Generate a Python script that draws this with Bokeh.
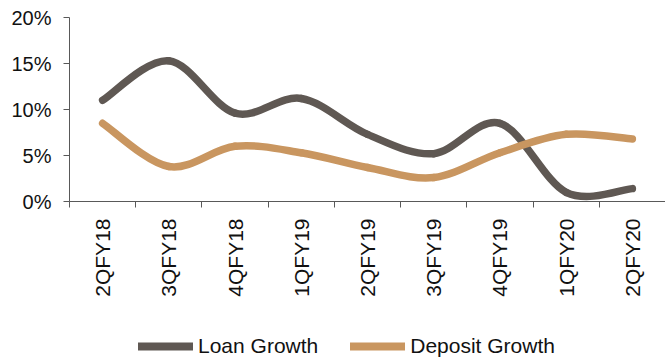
import math
from bokeh.plotting import figure
from bokeh.layouts import column
from bokeh.models import (Range1d, FixedTicker, CustomJSTickFormatter, Legend, LegendItem,
                          ColumnDataSource)
from bokeh.embed import file_html
from bokeh.resources import INLINE

quarters = ["2QFY18", "3QFY18", "4QFY18", "1QFY19", "2QFY19", "3QFY19", "4QFY19", "1QFY20", "2QFY20"]
loan_growth = [11.0, 15.3, 9.6, 11.2, 7.3, 5.2, 8.5, 1.0, 1.4]
deposit_growth = [8.5, 3.8, 6.0, 5.3, 3.7, 2.6, 5.3, 7.3, 6.8]
y_ticks = [0, 5, 10, 15, 20]
series_names = ["Loan Growth", "Deposit Growth"]

LOAN_COLOR = "#5f5853"
DEP_COLOR = "#c99660"
FONT = "Liberation Sans"

xs = [i + 0.5 for i in range(len(quarters))]


def smooth_segments(x, y):
    n = len(x)
    d = dict(x0=[], y0=[], x1=[], y1=[], cx0=[], cy0=[], cx1=[], cy1=[])
    for i in range(n - 1):
        p0 = max(i - 1, 0)
        p3 = min(i + 2, n - 1)
        d["x0"].append(x[i]); d["y0"].append(y[i])
        d["x1"].append(x[i + 1]); d["y1"].append(y[i + 1])
        d["cx0"].append(x[i] + (x[i + 1] - x[p0]) / 6.0)
        d["cy0"].append(y[i] + (y[i + 1] - y[p0]) / 6.0)
        d["cx1"].append(x[i + 1] - (x[p3] - x[i]) / 6.0)
        d["cy1"].append(y[i + 1] - (y[p3] - y[i]) / 6.0)
    return ColumnDataSource(d)


p = figure(width=665, height=300, output_backend="svg", toolbar_location=None,
           x_range=Range1d(0, len(quarters)), y_range=Range1d(0, 20),
           min_border_left=69, min_border_right=0, min_border_top=17, min_border_bottom=99)
p.outline_line_color = None
p.xgrid.visible = False
p.ygrid.visible = False

colors = [LOAN_COLOR, DEP_COLOR]
for vals, col in zip((loan_growth, deposit_growth), colors):
    src = smooth_segments(xs, vals)
    p.bezier(x0="x0", y0="y0", x1="x1", y1="y1", cx0="cx0", cy0="cy0", cx1="cx1", cy1="cy1",
             source=src, line_color=col, line_width=7.5, line_cap="round")

# x axis
xa = p.xaxis[0]
xa.ticker = FixedTicker(ticks=xs, minor_ticks=list(range(len(quarters) + 1)))
xa.formatter = CustomJSTickFormatter(args=dict(labels=quarters),
                                     code="return labels[Math.round(tick - 0.5)];")
xa.major_tick_out = 0
xa.major_tick_in = 0
xa.minor_tick_out = 6
xa.minor_tick_in = 0
xa.minor_tick_line_color = "#595959"
xa.axis_line_color = "#595959"
xa.major_label_orientation = math.pi / 2
xa.major_label_standoff = 11
xa.major_label_text_font = FONT
xa.major_label_text_font_size = "21px"
xa.major_label_text_color = "#111111"

# y axis
ya = p.yaxis[0]
ya.ticker = FixedTicker(ticks=y_ticks, minor_ticks=[])
ya.formatter = CustomJSTickFormatter(code="return tick + '%';")
ya.major_tick_out = 6
ya.major_tick_in = 0
ya.minor_tick_out = 0
ya.minor_tick_in = 0
ya.axis_line_color = "#595959"
ya.major_tick_line_color = "#595959"
ya.major_label_standoff = 12
ya.major_label_text_font = FONT
ya.major_label_text_font_size = "20px"
ya.major_label_text_color = "#111111"

# legend strip below
lf = figure(width=665, height=60, output_backend="svg", toolbar_location=None,
            x_range=Range1d(0, 1), y_range=Range1d(0, 1),
            min_border=0, min_border_left=0, min_border_right=0,
            min_border_top=0, min_border_bottom=0)
lf.axis.visible = False
lf.grid.visible = False
lf.outline_line_color = None
items = []
for name, col in zip(series_names, colors):
    r = lf.line(x=[-2, -1], y=[-2, -1], line_color=col, line_width=8, line_cap="round")
    items.append(LegendItem(label=name, renderers=[r]))
legend = Legend(items=items, location=(69, 2), orientation="horizontal",
                glyph_width=55, glyph_height=24, label_standoff=5, spacing=32,
                padding=0, margin=0, border_line_alpha=0, background_fill_alpha=0,
                label_text_font=FONT, label_text_font_size="21px", label_text_color="#111111")
lf.add_layout(legend)

layout = column(p, lf, spacing=0)
open("out.html", "w").write(file_html(layout, INLINE))
